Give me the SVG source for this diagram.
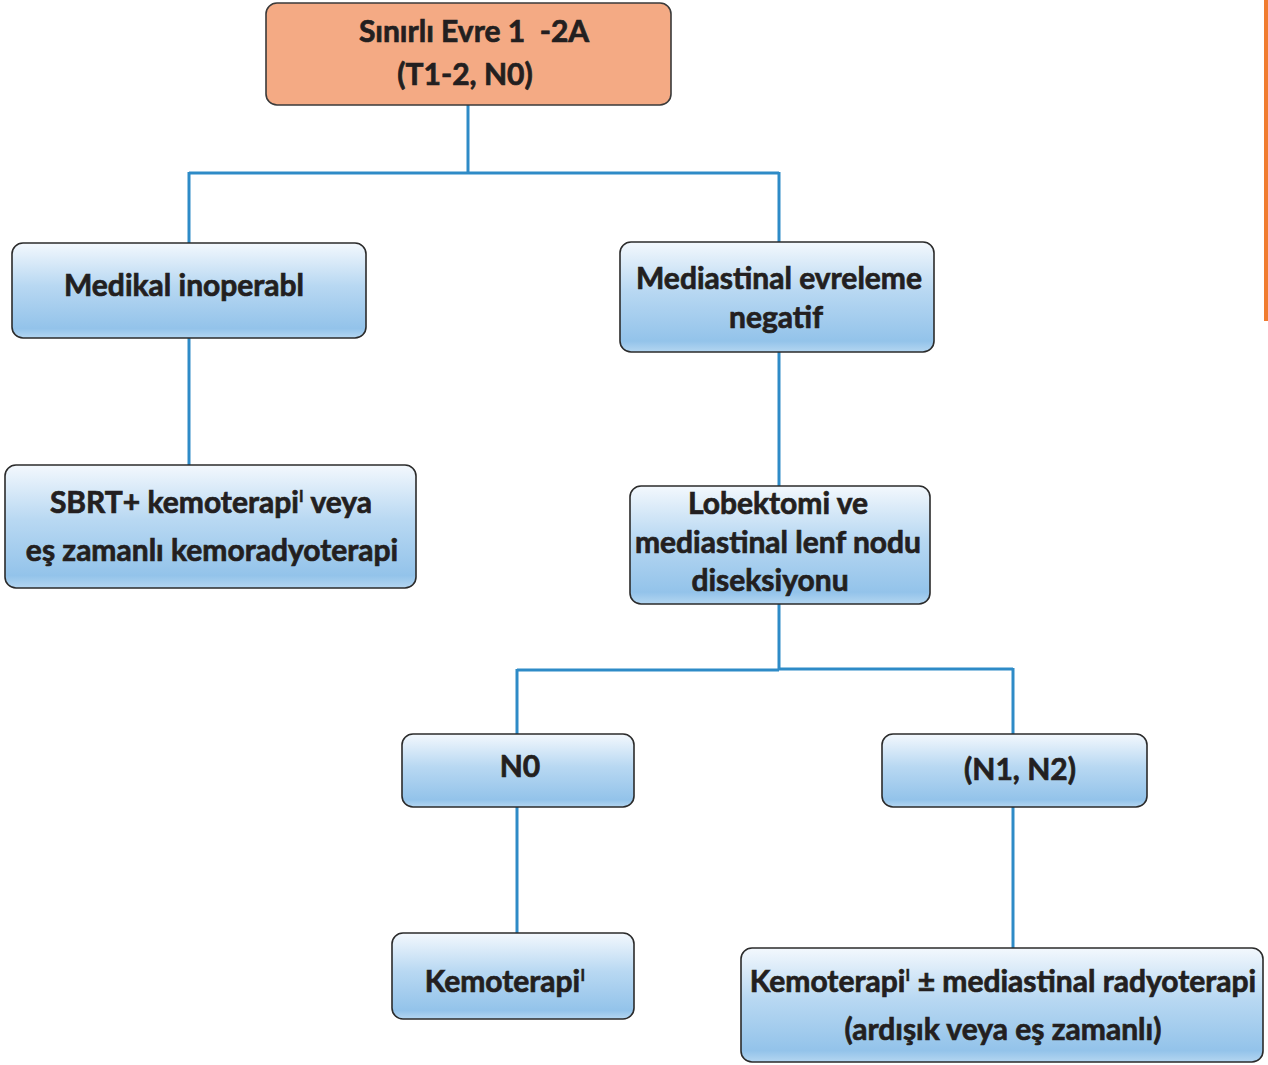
<svg xmlns="http://www.w3.org/2000/svg" width="1268" height="1065" viewBox="0 0 1268 1065">
  <style>
    .box { fill: url(#blueGrad); stroke: #2b2b2b; stroke-width: 1.6; }
    .top { fill: #f4aa84; stroke: #3a3a3a; stroke-width: 1.6; }
    .lbl { font-family: Lato, "Open Sans", "Liberation Sans", sans-serif; font-weight: 700; font-size: 30px; fill: #231f20; stroke: #231f20; stroke-width: 0.7; text-anchor: middle; }
    .sup { font-size: 17px; stroke-width: 0.3; }
    .link { fill: none; stroke: #2e8bc7; stroke-width: 3; }
  </style>
  <defs>
    <linearGradient id="blueGrad" x1="0" y1="0" x2="0" y2="1">
      <stop offset="0" stop-color="#f3f8fd"/>
      <stop offset="0.45" stop-color="#b8d8f2"/>
      <stop offset="0.9" stop-color="#93c3ea"/>
      <stop offset="1" stop-color="#b4d6f1"/>
    </linearGradient>
  </defs>
  <rect width="1268" height="1065" fill="#ffffff"/>

  <!-- side accent bar -->
  <rect x="1264" y="0" width="4" height="321" fill="#f07c30"/>

  <!-- connectors -->
  <g id="connectors">
    <path class="link" d="M468 105 V173 M189 173 H779 M189 172 V243 M779 172 V242"/>
    <path class="link" d="M189 338 V465"/>
    <path class="link" d="M779 352 V486"/>
    <path class="link" d="M779 604 V669 M517 670 H779 M779 669 H1013 M517 669 V734 M1013 668 V734"/>
    <path class="link" d="M517 807 V933"/>
    <path class="link" d="M1013 807 V948"/>
  </g>

  <g id="node-root">
    <rect class="top" x="266" y="3" width="405" height="102" rx="11"/>
    <text class="lbl" x="474" y="42">Sınırlı Evre 1&#160; -2A</text>
    <text class="lbl" x="465" y="85">(T1-2, N0)</text>
  </g>

  <g id="node-inoperable">
    <rect class="box" x="12" y="243" width="354" height="95" rx="11"/>
    <text class="lbl" x="184" y="296">Medikal inoperabl</text>
  </g>

  <g id="node-staging-negative">
    <rect class="box" x="620" y="242" width="314" height="110" rx="11"/>
    <text class="lbl" x="779" y="289">Mediastinal evreleme</text>
    <text class="lbl" x="776" y="328">negatif</text>
  </g>

  <g id="node-sbrt">
    <rect class="box" x="5" y="465" width="411" height="123" rx="11"/>
    <text class="lbl" x="211" y="513">SBRT+ kemoterapi<tspan class="sup" dy="-11">I</tspan><tspan dy="11"> veya</tspan></text>
    <text class="lbl" x="212" y="561">eş zamanlı kemoradyoterapi</text>
  </g>

  <g id="node-lobectomy">
    <rect class="box" x="630" y="486" width="300" height="118" rx="11"/>
    <text class="lbl" x="778" y="514">Lobektomi ve</text>
    <text class="lbl" x="778" y="553">mediastinal lenf nodu</text>
    <text class="lbl" x="770" y="591">diseksiyonu</text>
  </g>

  <g id="node-n0">
    <rect class="box" x="402" y="734" width="232" height="73" rx="11"/>
    <text class="lbl" x="520" y="777">N0</text>
  </g>

  <g id="node-n1n2">
    <rect class="box" x="882" y="734" width="265" height="73" rx="11"/>
    <text class="lbl" x="1020" y="780">(N1, N2)</text>
  </g>

  <g id="node-chemo">
    <rect class="box" x="392" y="933" width="242" height="86" rx="11"/>
    <text class="lbl" x="505" y="992">Kemoterapi<tspan class="sup" dy="-11">I</tspan></text>
  </g>

  <g id="node-chemo-rt">
    <rect class="box" x="741" y="948" width="522" height="114" rx="11"/>
    <text class="lbl" x="1003" y="992">Kemoterapi<tspan class="sup" dy="-11">I</tspan><tspan dy="11"> ± mediastinal radyoterapi</tspan></text>
    <text class="lbl" x="1003" y="1040">(ardışık veya eş zamanlı)</text>
  </g>
</svg>
